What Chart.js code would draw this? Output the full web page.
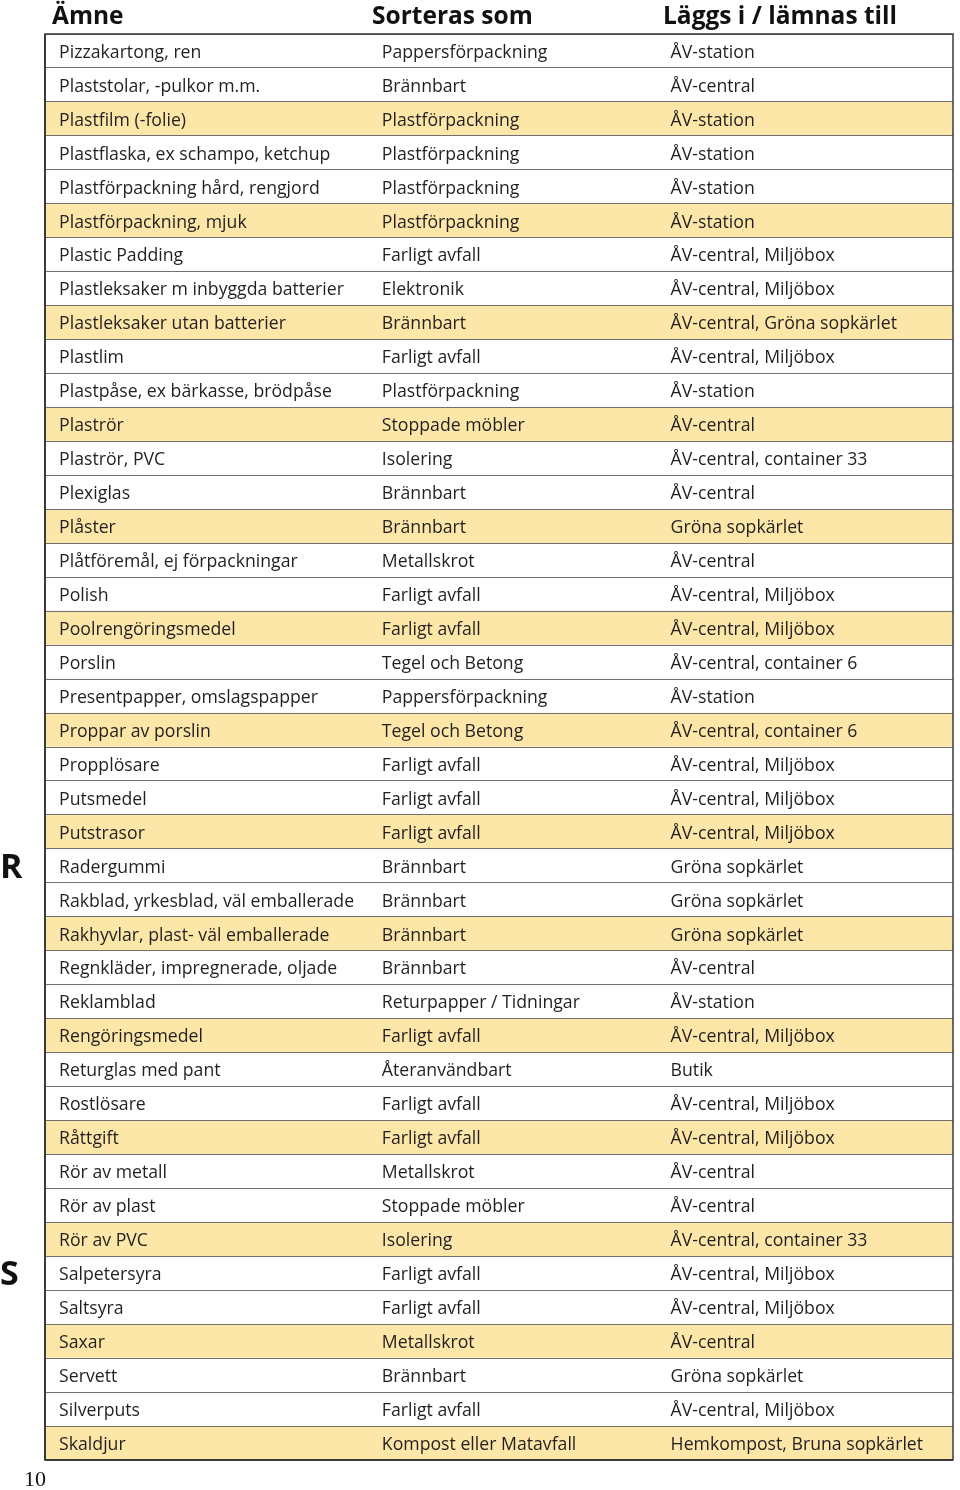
<!DOCTYPE html>
<html>
<head>
<meta charset="utf-8">
<script src="https://cdn.jsdelivr.net/npm/chart.js@4"></script>
<style>
  html, body { margin: 0; padding: 0; background: #fff; }
  #wrap { position: relative; width: 960px; height: 1490px; }
</style>
</head>
<body>
<div id="wrap"><canvas id="tableChart" width="960" height="1490"></canvas></div>
<script>
const headers = ['Ämne', 'Sorteras som', 'Läggs i / lämnas till'];

const items = [
    'Pizzakartong, ren', 'Plaststolar, -pulkor m.m.', 'Plastfilm (-folie)',
    'Plastflaska, ex schampo, ketchup', 'Plastförpackning hård, rengjord', 'Plastförpackning, mjuk',
    'Plastic Padding', 'Plastleksaker m inbyggda batterier', 'Plastleksaker utan batterier',
    'Plastlim', 'Plastpåse, ex bärkasse, brödpåse', 'Plaströr',
    'Plaströr, PVC', 'Plexiglas', 'Plåster',
    'Plåtföremål, ej förpackningar', 'Polish', 'Poolrengöringsmedel',
    'Porslin', 'Presentpapper, omslagspapper', 'Proppar av porslin',
    'Propplösare', 'Putsmedel', 'Putstrasor',
    'Radergummi', 'Rakblad, yrkesblad, väl emballerade', 'Rakhyvlar, plast- väl emballerade',
    'Regnkläder, impregnerade, oljade', 'Reklamblad', 'Rengöringsmedel',
    'Returglas med pant', 'Rostlösare', 'Råttgift',
    'Rör av metall', 'Rör av plast', 'Rör av PVC',
    'Salpetersyra', 'Saltsyra', 'Saxar',
    'Servett', 'Silverputs', 'Skaldjur'
];

const sortedAs = [
    'Pappersförpackning', 'Brännbart', 'Plastförpackning',
    'Plastförpackning', 'Plastförpackning', 'Plastförpackning',
    'Farligt avfall', 'Elektronik', 'Brännbart',
    'Farligt avfall', 'Plastförpackning', 'Stoppade möbler',
    'Isolering', 'Brännbart', 'Brännbart',
    'Metallskrot', 'Farligt avfall', 'Farligt avfall',
    'Tegel och Betong', 'Pappersförpackning', 'Tegel och Betong',
    'Farligt avfall', 'Farligt avfall', 'Farligt avfall',
    'Brännbart', 'Brännbart', 'Brännbart',
    'Brännbart', 'Returpapper / Tidningar', 'Farligt avfall',
    'Återanvändbart', 'Farligt avfall', 'Farligt avfall',
    'Metallskrot', 'Stoppade möbler', 'Isolering',
    'Farligt avfall', 'Farligt avfall', 'Metallskrot',
    'Brännbart', 'Farligt avfall', 'Kompost eller Matavfall'
];

const placedAt = [
    'ÅV-station', 'ÅV-central', 'ÅV-station',
    'ÅV-station', 'ÅV-station', 'ÅV-station',
    'ÅV-central, Miljöbox', 'ÅV-central, Miljöbox', 'ÅV-central, Gröna sopkärlet',
    'ÅV-central, Miljöbox', 'ÅV-station', 'ÅV-central',
    'ÅV-central, container 33', 'ÅV-central', 'Gröna sopkärlet',
    'ÅV-central', 'ÅV-central, Miljöbox', 'ÅV-central, Miljöbox',
    'ÅV-central, container 6', 'ÅV-station', 'ÅV-central, container 6',
    'ÅV-central, Miljöbox', 'ÅV-central, Miljöbox', 'ÅV-central, Miljöbox',
    'Gröna sopkärlet', 'Gröna sopkärlet', 'Gröna sopkärlet',
    'ÅV-central', 'ÅV-station', 'ÅV-central, Miljöbox',
    'Butik', 'ÅV-central, Miljöbox', 'ÅV-central, Miljöbox',
    'ÅV-central', 'ÅV-central', 'ÅV-central, container 33',
    'ÅV-central, Miljöbox', 'ÅV-central, Miljöbox', 'ÅV-central',
    'Gröna sopkärlet', 'ÅV-central, Miljöbox', 'Hemkompost, Bruna sopkärlet'
];

// section letters shown in the margin, keyed by the row they sit beside
const sectionLetters = ['R', 'S'];
const sectionRows = ['Radergummi', 'Salpetersyra'];
const pageNumber = '10';

const rowFill = items.map(function(name, i) {
    return (i % 3 === 2) ? '#fce7a9' : '#ffffff';
});
const rowSpan = items.map(function() { return 1; });

const FONT = '"Open Sans", "Noto Sans", sans-serif';
const TEXT_COLOR = '#231f20';

// text squeezed a bit so Open Sans runs as narrow as the original typeface
function drawNarrow(ctx, text, x, y, squeeze) {
    ctx.save();
    ctx.translate(x, y);
    ctx.scale(squeeze, 1);
    ctx.fillText(text, 0, 0);
    ctx.restore();
}

const tableText = {
    id: 'tableText',
    afterDraw: function(chart) {
        const ctx = chart.ctx;
        const y = chart.scales.y;
        const x = chart.scales.x;
        const area = chart.chartArea;
        const colX = [x.getPixelForValue(0.0155), x.getPixelForValue(0.371), x.getPixelForValue(0.689)];

        ctx.save();
        // outer frame
        ctx.strokeStyle = '#3a3a3a';
        ctx.lineWidth = 1.5;
        ctx.strokeRect(area.left, area.top, area.right - area.left, area.bottom - area.top);
        ctx.lineWidth = 2;
        ctx.beginPath();
        ctx.moveTo(area.left, area.top);
        ctx.lineTo(area.left, area.bottom);
        ctx.moveTo(area.left, area.bottom);
        ctx.lineTo(area.right, area.bottom);
        ctx.stroke();

        ctx.fillStyle = TEXT_COLOR;
        ctx.textBaseline = 'middle';
        ctx.font = '18.5px ' + FONT;
        for (let i = 0; i < items.length; i++) {
            const py = y.getPixelForValue(i) + 1.5;
            drawNarrow(ctx, items[i], colX[0], py, 0.955);
            drawNarrow(ctx, sortedAs[i], colX[1], py, 0.955);
            drawNarrow(ctx, placedAt[i], colX[2], py, 0.955);
        }

        // header
        ctx.font = 'bold 24.5px ' + FONT;
        ctx.textBaseline = 'alphabetic';
        ctx.fillStyle = '#111';
        ctx.fillText(headers[0], 52, 24);
        ctx.fillText(headers[1], 372, 24);
        ctx.fillText(headers[2], 663, 24);

        // margin letters
        ctx.font = 'bold 34px ' + FONT;
        ctx.textBaseline = 'middle';
        for (let i = 0; i < sectionLetters.length; i++) {
            const idx = items.indexOf(sectionRows[i]);
            ctx.fillText(sectionLetters[i], 0, y.getPixelForValue(idx) + 2);
        }

        // page number
        ctx.font = '22px "Liberation Serif", "DejaVu Serif", serif';
        ctx.textBaseline = 'alphabetic';
        ctx.fillText(pageNumber, 24, 1486);
        ctx.restore();
    }
};

new Chart(document.getElementById('tableChart'), {
    type: 'bar',
    data: {
        labels: items,
        datasets: [{
            data: rowSpan,
            backgroundColor: rowFill,
            barPercentage: 1,
            categoryPercentage: 1,
            borderWidth: 0
        }]
    },
    options: {
        indexAxis: 'y',
        responsive: false,
        animation: false,
        events: [],
        layout: { padding: { left: 45, right: 7, top: 34, bottom: 30 } },
        plugins: { legend: { display: false }, tooltip: { enabled: false } },
        scales: {
            x: { display: false, min: 0, max: 1 },
            y: {
                display: true,
                offset: true,
                ticks: { display: false },
                border: { display: false },
                grid: { z: 1, offset: true, color: '#707070', lineWidth: 1, drawTicks: false }
            }
        }
    },
    plugins: [tableText]
});
</script>
</body>
</html>
